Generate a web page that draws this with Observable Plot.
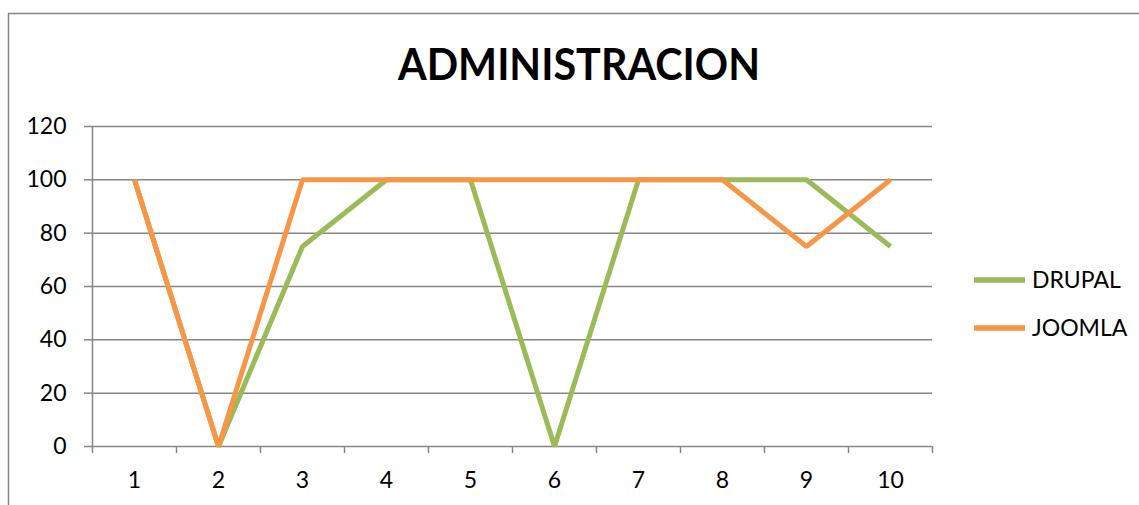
<!DOCTYPE html>
<html>
<head>
<meta charset="utf-8">
<script src="https://cdn.jsdelivr.net/npm/d3@7"></script>
<script src="https://cdn.jsdelivr.net/npm/@observablehq/plot@0.6"></script>
<style>
  html, body { margin: 0; padding: 0; background: white; }
  #chart { position: relative; width: 1139px; height: 505px; overflow: hidden; }
</style>
</head>
<body>
<div id="chart"></div>
<script>
const categories = [1, 2, 3, 4, 5, 6, 7, 8, 9, 10];
const drupal = [100, 0, 75, 100, 100, 0, 100, 100, 100, 75];
const joomla = [100, 0, 100, 100, 100, 100, 100, 100, 75, 100];
const yTicks = [0, 20, 40, 60, 80, 100, 120];
const seriesNames = ["DRUPAL", "JOOMLA"];
const seriesColors = ["#9BBB59", "#F79646"];
const title = "ADMINISTRACION";

const seriesValues = [drupal, joomla];
const rows = seriesNames.flatMap((name, i) =>
  categories.map((c, j) => ({ name, x: c, y: seriesValues[i][j] }))
);
const bounds = [...categories.map(c => c - 0.5), categories[categories.length - 1] + 0.5];
const gridColor = "#868686";

const plot = Plot.plot({
  width: 1139,
  height: 505,
  marginLeft: 92,
  marginRight: 207,
  marginTop: 126,
  marginBottom: 59,
  style: { fontFamily: "Lato, 'Open Sans', sans-serif", fontSize: "23px", color: "black", background: "white", overflow: "hidden" },
  x: { domain: [bounds[0], bounds[bounds.length - 1]], label: null },
  y: { domain: [0, 120], label: null },
  color: { domain: seriesNames, range: seriesColors },
  marks: [
    Plot.gridY(yTicks, { stroke: gridColor, strokeOpacity: 1, strokeWidth: 1.5 }),
    Plot.axisY(yTicks, { tickSize: 8, tickPadding: 18, stroke: gridColor, strokeWidth: 1.5, fill: "black", label: null }),
    Plot.ruleX([bounds[0]], { y1: 0, y2: 120, stroke: gridColor, strokeWidth: 1.5 }),
    Plot.axisX(bounds, { tickSize: 7, stroke: gridColor, strokeWidth: 1.5, tickFormat: () => "", label: null }),
    Plot.axisX(categories, { tickSize: 0, tickPadding: 25, fill: "black", tickFormat: d => String(d), label: null }),
    Plot.line(rows, { x: "x", y: "y", z: "name", stroke: "name", strokeWidth: 5, strokeLinejoin: "miter", strokeLinecap: "butt" })
  ]
});

document.getElementById("chart").appendChild(plot);

const svg = d3.select(plot);
// chart border (top and left edge visible)
svg.append("rect")
  .attr("x", 8.5).attr("y", 13.5).attr("width", 3000).attr("height", 3000)
  .attr("fill", "none").attr("stroke", gridColor).attr("stroke-width", 1.5);

// title
svg.append("text")
  .attr("x", 579).attr("y", 80)
  .attr("text-anchor", "middle")
  .attr("font-family", "Lato, 'Open Sans', sans-serif")
  .attr("font-weight", "bold")
  .attr("font-size", 44)
  .attr("textLength", 362)
  .attr("lengthAdjust", "spacingAndGlyphs")
  .attr("fill", "black")
  .text(title);

// legend
const legendY = [280, 328];
seriesNames.forEach((name, i) => {
  svg.append("line")
    .attr("x1", 974).attr("x2", 1025).attr("y1", legendY[i]).attr("y2", legendY[i])
    .attr("stroke", seriesColors[i]).attr("stroke-width", 5.5);
  svg.append("text")
    .attr("x", 1032).attr("y", legendY[i]).attr("dy", "0.36em")
    .attr("text-anchor", "start")
    .attr("font-family", "Lato, 'Open Sans', sans-serif")
    .attr("font-size", 23)
    .attr("fill", "black")
    .text(name);
});
</script>
</body>
</html>
